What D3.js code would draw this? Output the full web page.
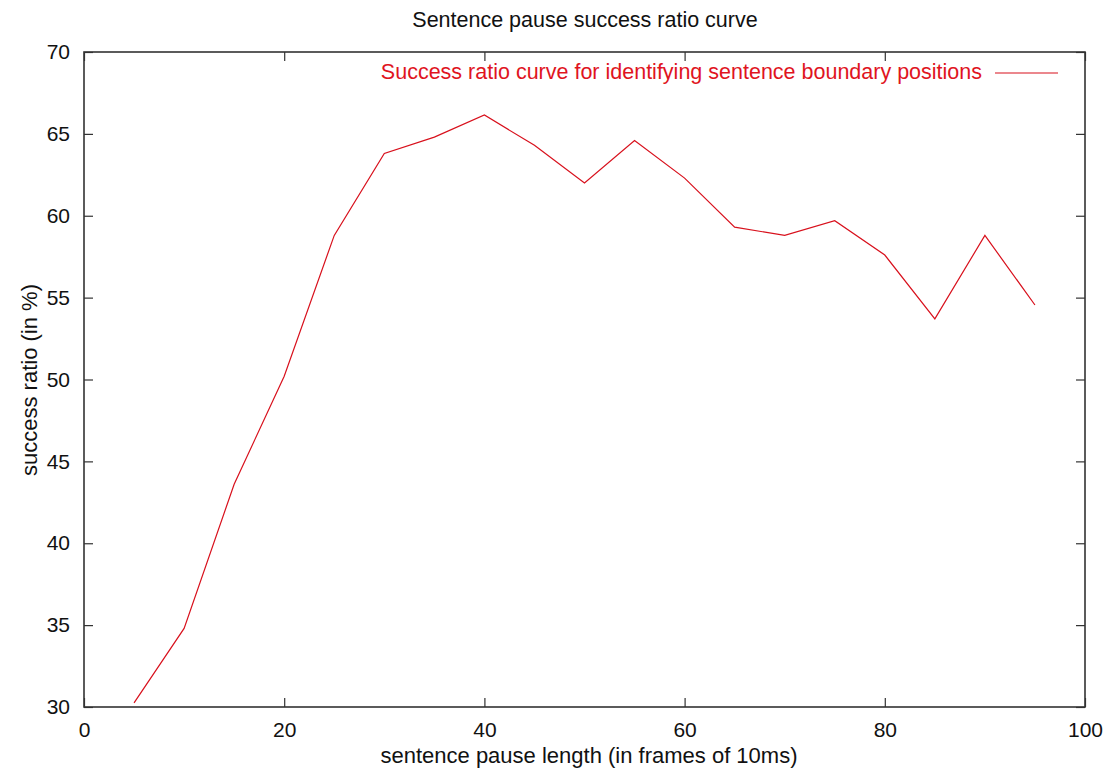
<!DOCTYPE html>
<html>
<head>
<meta charset="utf-8">
<script src="https://cdn.jsdelivr.net/npm/d3@7"></script>
<style>
  html, body { margin: 0; padding: 0; background: #fff; }
  svg { display: block; font-family: "Liberation Sans", Arial, sans-serif; }
</style>
</head>
<body>
<svg id="chart" width="1106" height="776"></svg>
<script>
// Sentence pause length (frames of 10 ms) vs. success ratio (%)
const pauseLengths = [5, 10, 15, 20, 25, 30, 35, 40, 45, 50, 55, 60, 65, 70, 75, 80, 85, 90, 95];
const successRatio = [30.25, 34.8, 43.6, 50.2, 58.8, 63.8, 64.8, 66.15, 64.3, 62.0, 64.6, 62.3, 59.3, 58.8, 59.7, 57.6, 53.7, 58.8, 54.55];
const xTicks = [0, 20, 40, 60, 80, 100];
const yTicks = [30, 35, 40, 45, 50, 55, 60, 65, 70];

const titleText = "Sentence pause success ratio curve";
const seriesName = "Success ratio curve for identifying sentence boundary positions";
const xLabel = "sentence pause length (in frames of 10ms)";
const yLabel = "success ratio (in %)";

const svg = d3.select("#chart");
const W = 1106, H = 776;
const x0 = 84, x1 = 1085;
const y0 = 707, y1 = 52;

const x = d3.scaleLinear().domain([0, 100]).range([x0, x1]);
const y = d3.scaleLinear().domain([30, 70]).range([y0, y1]);

const frame = "#333";
const tickLen = 9;

// Ticks on all four sides, pointing inward
const g = svg.append("g");
const axBottom = d3.axisBottom(x).tickValues(xTicks).tickSize(-tickLen).tickPadding(15).tickFormat(d3.format("d"));
const axTop = d3.axisTop(x).tickValues(xTicks).tickSize(-tickLen).tickFormat("");
const axLeft = d3.axisLeft(y).tickValues(yTicks).tickSize(-tickLen).tickPadding(14).tickFormat(d3.format("d"));
const axRight = d3.axisRight(y).tickValues(yTicks).tickSize(-tickLen).tickFormat("");

function style(sel) {
  sel.select(".domain").remove();
  sel.selectAll(".tick line").attr("stroke", frame).attr("stroke-width", 1.2);
  sel.selectAll(".tick text").attr("fill", "#111").style("font-size", "21px");
}
g.append("g").attr("transform", `translate(0,${y0})`).call(axBottom).call(style);
g.append("g").attr("transform", `translate(0,${y1})`).call(axTop).call(style);
g.append("g").attr("transform", `translate(${x0},0)`).call(axLeft).call(style);
g.append("g").attr("transform", `translate(${x1},0)`).call(axRight).call(style);

// Plot border
svg.append("rect")
  .attr("x", x0).attr("y", y1)
  .attr("width", x1 - x0).attr("height", y0 - y1)
  .attr("fill", "none").attr("stroke", frame).attr("stroke-width", 1.6);

// Data curve
const line = d3.line().x((d, i) => x(pauseLengths[i])).y(d => y(d));
svg.append("path")
  .datum(successRatio)
  .attr("d", line)
  .attr("fill", "none")
  .attr("stroke", "#d8101c")
  .attr("stroke-width", 1.2);

// Legend
svg.append("text")
  .attr("x", 982).attr("y", 79)
  .attr("text-anchor", "end")
  .attr("fill", "#e0141e")
  .style("font-size", "21.5px")
  .text(seriesName);
svg.append("line")
  .attr("x1", 995).attr("x2", 1058)
  .attr("y1", 73).attr("y2", 73)
  .attr("stroke", "#d8101c").attr("stroke-width", 1.2);

// Title and axis labels
svg.append("text")
  .attr("x", 585).attr("y", 27)
  .attr("text-anchor", "middle")
  .attr("fill", "#111")
  .style("font-size", "21.5px")
  .text(titleText);
svg.append("text")
  .attr("x", 589).attr("y", 763)
  .attr("text-anchor", "middle")
  .attr("fill", "#111")
  .style("font-size", "22px")
  .text(xLabel);
svg.append("text")
  .attr("transform", `translate(37,380) rotate(-90)`)
  .attr("text-anchor", "middle")
  .attr("fill", "#111")
  .style("font-size", "22px")
  .text(yLabel);
</script>
</body>
</html>
